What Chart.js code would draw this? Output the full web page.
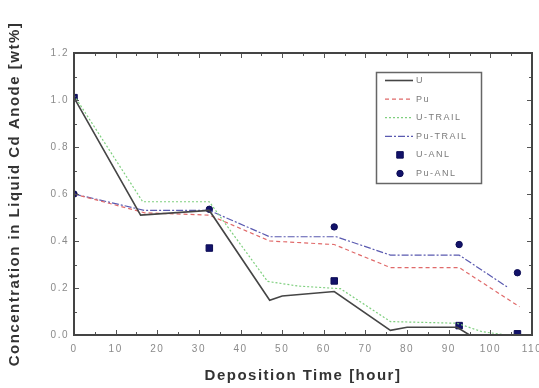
<!DOCTYPE html>
<html>
<head>
<meta charset="utf-8">
<script src="https://cdn.jsdelivr.net/npm/chart.js@4.4.1/dist/chart.umd.min.js"></script>
<style>
  html, body { margin: 0; padding: 0; background: #fff; }
</style>
</head>
<body>
<canvas id="chart-deposition" width="539" height="388"></canvas>
<script>
/* Model curves: hours and Cd anode concentration (wt%) */
const uHours = [0, 16, 32.5, 47, 50, 62.5, 76, 80, 92, 95, 100]
const uConc = [1.01, 0.51, 0.53, 0.148, 0.166, 0.185, 0.02, 0.033, 0.033, 0.0, 0.0]

const puHours = [0, 17, 32.5, 47, 62.5, 76, 92.5, 107]
const puConc = [0.60, 0.52, 0.51, 0.40, 0.385, 0.287, 0.287, 0.12]

const uTrailHours = [0, 16.5, 32.5, 46.5, 54, 64, 76, 92, 98, 104]
const uTrailConc = [1.02, 0.567, 0.567, 0.228, 0.208, 0.197, 0.057, 0.05, 0.014, 0.0]

const puTrailHours = [0, 17, 32.5, 47, 63, 76, 92.5, 104]
const puTrailConc = [0.60, 0.53, 0.53, 0.418, 0.418, 0.34, 0.34, 0.205]

/* Measured samples */
const anlHours = [0, 32.5, 62.5, 92.5, 106.5]
const uAnlConc = [1.01, 0.37, 0.23, 0.04, 0.005]
const puAnlConc = [0.60, 0.535, 0.46, 0.385, 0.265]

const xTicksMajor = [0, 10, 20, 30, 40, 50, 60, 70, 80, 90, 100, 110]
const yTicksMajor = ['0.0', '0.2', '0.4', '0.6', '0.8', '1.0', '1.2']

const toPoints = (xs, ys) => xs.map((x, i) => ({ x: x, y: ys[i] }))

/* Frame round the plot with inward ticks on all four sides */
const frameTicks = {
    id: 'frameTicks',
    afterDatasetsDraw(chart) {
        const { ctx, chartArea: a, scales } = chart
        ctx.save()
        ctx.strokeStyle = '#555'
        ctx.lineWidth = 1
        ctx.beginPath()
        scales.x.ticks.forEach(t => {
            const px = Math.round(scales.x.getPixelForValue(t.value)) + 0.5
            const len = t.value % 10 === 0 ? 5 : 3
            ctx.moveTo(px, a.bottom); ctx.lineTo(px, a.bottom - len)
            ctx.moveTo(px, a.top); ctx.lineTo(px, a.top + len)
        })
        scales.y.ticks.forEach(t => {
            const py = Math.round(scales.y.getPixelForValue(t.value)) + 0.5
            const len = Math.round(t.value * 10) % 2 === 0 ? 5 : 3
            ctx.moveTo(a.left, py); ctx.lineTo(a.left + len, py)
            ctx.moveTo(a.right, py); ctx.lineTo(a.right - len, py)
        })
        ctx.stroke()
        ctx.strokeStyle = '#444'
        ctx.lineWidth = 2
        ctx.strokeRect(a.left, a.top, a.right - a.left, a.bottom - a.top)
        ctx.restore()
    }
}

/* Boxed legend inside the plot, top right */
const boxLegend = {
    id: 'boxLegend',
    afterDraw(chart) {
        const { ctx, chartArea: a } = chart
        const left = a.right - 156, top = a.top + 19, w = 105, h = 111
        ctx.save()
        ctx.fillStyle = '#fff'
        ctx.fillRect(left, top, w, h)
        ctx.strokeStyle = '#666'
        ctx.lineWidth = 1.5
        ctx.strokeRect(left + 0.5, top + 0.5, w, h)
        ctx.font = '9px "Liberation Sans", Arial, sans-serif'
        ctx.textBaseline = 'middle'
        chart.data.datasets.forEach((ds, i) => {
            const y = top + 8.5 + i * 18.6
            if (ds.showLine === false) {
                ctx.fillStyle = ds.backgroundColor
                ctx.strokeStyle = ds.borderColor
                ctx.lineWidth = 1
                Chart.helpers.drawPoint(ctx, { pointStyle: ds.pointStyle, radius: ds.pointRadius, rotation: 0, borderWidth: 1 }, left + 24, y)
            } else {
                ctx.strokeStyle = ds.borderColor
                ctx.lineWidth = ds.borderWidth
                ctx.setLineDash(ds.borderDash || [])
                ctx.beginPath()
                ctx.moveTo(left + 9, y)
                ctx.lineTo(left + 37, y)
                ctx.stroke()
                ctx.setLineDash([])
            }
            ctx.fillStyle = '#7a7a7a'
            ctx.fillText(ds.label, left + 40, y)
        })
        ctx.restore()
    }
}

/* Letter spacing for all chart text */
const spacedText = {
    id: 'spacedText',
    beforeLayout(chart) { chart.ctx.letterSpacing = '1.5px' },
    beforeDraw(chart) { chart.ctx.letterSpacing = '1.5px' }
}

const lineSet = (label, xs, ys, color, width, dash) => ({
    label: label,
    data: toPoints(xs, ys),
    borderColor: color,
    backgroundColor: color,
    borderWidth: width,
    borderDash: dash,
    pointRadius: 0,
    tension: 0,
    fill: false
})

const markSet = (label, ys, style, radius) => ({
    label: label,
    data: toPoints(anlHours, ys),
    showLine: false,
    pointStyle: style,
    pointRadius: radius,
    borderColor: '#0d0d55',
    backgroundColor: '#12126a',
    borderWidth: 1
})

const tickFont = { family: '"Liberation Sans", Arial, sans-serif', size: 10 }
const titleFont = { family: '"Liberation Sans", Arial, sans-serif', size: 15, weight: 'bold' }

const chart = new Chart(document.getElementById('chart-deposition'), {
    type: 'line',
    data: {
        datasets: [
            lineSet('U', uHours, uConc, '#454545', 1.6, []),
            lineSet('Pu', puHours, puConc, '#e06a6a', 1.2, [4, 3]),
            lineSet('U-TRAIL', uTrailHours, uTrailConc, '#7fcf7f', 1.2, [2, 2]),
            lineSet('Pu-TRAIL', puTrailHours, puTrailConc, '#5a5ab0', 1.2, [7, 2, 2, 2]),
            markSet('U-ANL', uAnlConc, 'rect', 4.6),
            markSet('Pu-ANL', puAnlConc, 'circle', 3.2)
        ]
    },
    options: {
        responsive: false,
        animation: false,
        layout: { padding: { top: 53, right: 7, left: 0, bottom: 0 } },
        plugins: {
            legend: { display: false },
            tooltip: { enabled: false }
        },
        scales: {
            x: {
                type: 'linear',
                min: 0,
                max: 110,
                grid: { display: false, drawTicks: false },
                border: { display: false },
                ticks: {
                    stepSize: 5,
                    autoSkip: false,
                    maxRotation: 0,
                    padding: 8,
                    color: '#8a8a8a',
                    font: tickFont,
                    callback: v => xTicksMajor.includes(v) ? String(v) : ''
                },
                title: {
                    display: true,
                    text: 'Deposition Time [hour]',
                    color: '#333',
                    padding: { top: 0, bottom: 3 },
                    font: titleFont
                },
                afterFit(scale) {
                    scale.height = 53
                    scale.paddingLeft = 0
                    scale.paddingRight = 0
                }
            },
            y: {
                min: 0,
                max: 1.2,
                grid: { display: false, drawTicks: false },
                border: { display: false },
                ticks: {
                    stepSize: 0.1,
                    autoSkip: false,
                    padding: 5,
                    color: '#8a8a8a',
                    font: tickFont,
                    callback: v => yTicksMajor.includes(v.toFixed(1)) && Math.round(v * 10) % 2 === 0 ? v.toFixed(1) : ''
                },
                title: {
                    display: true,
                    text: 'Concentration in Liquid Cd Anode [wt%]',
                    color: '#333',
                    padding: { top: 6, bottom: 0 },
                    font: titleFont
                },
                afterFit(scale) {
                    scale.width = 74
                    scale.paddingTop = 0
                    scale.paddingBottom = 0
                }
            }
        }
    },
    plugins: [spacedText, frameTicks, boxLegend]
})
</script>
</body>
</html>
